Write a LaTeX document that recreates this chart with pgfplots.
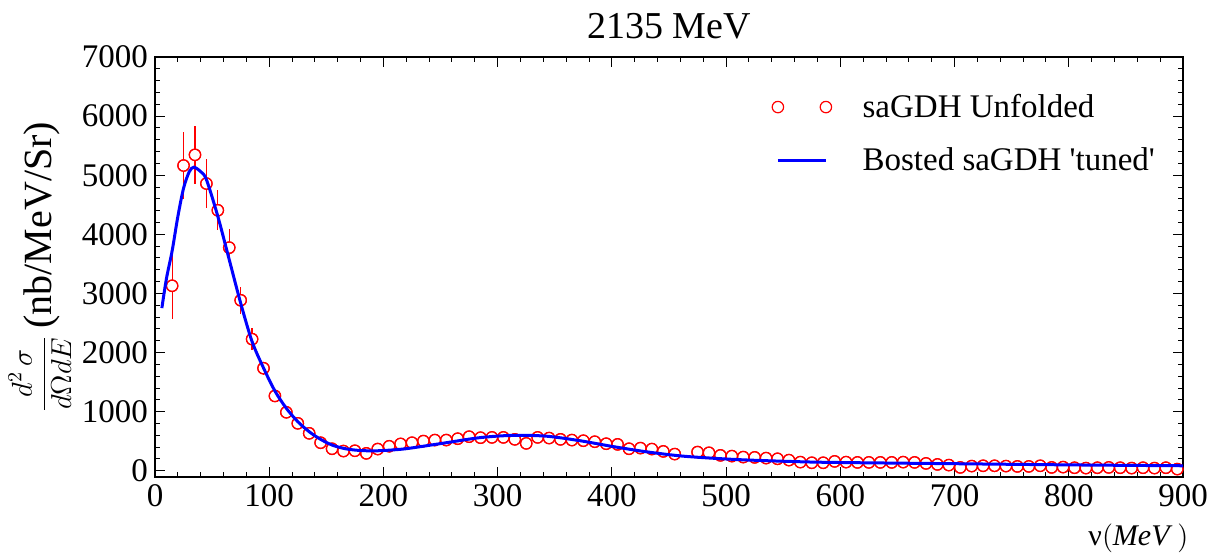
\documentclass[border=0pt]{standalone}
\usepackage{pgfplots}
\pgfplotsset{compat=1.18}
\usepackage{pgfplotstable}
\usepackage{fontspec}
\setmainfont{Liberation Serif}
\pgfplotsset{
  twomarks legend/.style={legend image code/.code={\draw[##1] plot coordinates {(0pt,0pt) (24pt,0pt)};}},
  shortline legend/.style={legend image code/.code={\draw[##1] (0pt,0pt) -- (24pt,0pt);}},
}
\pgfplotstableread{
x y e
15 3130 570
25 5164 565
35 5345 490
45 4859 420
55 4407 340
65 3775 310
75 2885 230
85 2227 190
95 1735 110
105 1266 90
115 990 70
125 803 60
135 634 55
145 475 50
155 373 50
165 334 50
175 339 50
185 295 50
195 368 50
205 415 50
215 455 50
225 475 50
235 503 50
245 520 50
255 520 50
265 543 50
275 577 50
285 560 50
295 565 50
305 565 50
315 532 50
325 464 50
335 565 50
345 554 50
355 532 50
365 520 50
375 509 50
385 492 50
395 458 50
405 447 50
415 373 50
425 384 50
435 368 50
445 328 50
455 283 50
475 317 40
485 305 40
495 261 40
505 249 40
515 232 40
525 227 40
535 215 40
545 203 40
555 181 40
565 147 40
575 136 40
585 136 40
595 159 40
605 147 40
615 142 40
625 142 40
635 142 40
645 142 40
655 147 40
665 142 40
675 125 40
685 108 40
695 97 40
705 57 40
715 80 40
725 85 40
735 85 40
745 80 40
755 74 40
765 74 40
775 85 40
785 57 40
795 63 40
805 52 40
815 46 40
825 52 40
835 57 40
845 52 40
855 46 40
865 52 40
875 46 40
885 52 40
895 29 40
}\datatable
\pgfplotstableread{
x y
6 2752
10 3250
15 3720
20 4300
25 4780
30 5060
34 5136
40 5060
45 4927
55 4305
65 3571
75 2837
85 2186
95 1740
105 1350
115 1057
125 831
135 661
145 532
155 436
165 380
175 351
185 339
197 340
214 362
226 390
255 475
285 562
314 600
343 585
372 509
401 410
430 322
460 252
489 212
518 183
565 153
600 140
700 120
800 100
900 85
}\curvetable
\begin{document}
\begin{tikzpicture}
\useasboundingbox (0,0) rectangle (606.5pt,276pt);
\begin{axis}[
  at={(77.5pt,37.5pt)}, anchor=south west,
  scale only axis, width=514pt, height=210pt,
  clip mode=individual,
  xmin=0, xmax=900, ymin=-105, ymax=7000,
  xtick={0,100,...,900}, ytick={0,1000,...,7000},
  minor x tick num=4, minor y tick num=4,
  tick align=inside, major tick length=5pt, minor tick length=2.5pt,
  axis line style={line width=1pt},
  tick style={black, line width=0.5pt},
  ticklabel style={font=\fontsize{16.5}{18}\selectfont},
  /pgf/number format/assume math mode=true,
  /pgf/number format/set thousands separator={},
  scaled ticks=false,
  title={2135 MeV},
  title style={font=\fontsize{19}{21}\selectfont, at={(axis description cs:0.5,1)}, anchor=base, yshift=3.5pt},
  ylabel={{\fontsize{14}{16}\selectfont$\displaystyle\frac{d^2\,\sigma}{d\Omega dE}$}\,\,{\fontsize{20}{24}\selectfont(nb/MeV/Sr)}},
  every axis y label/.style={at={(axis description cs:-0.112,0.5)}, rotate=90, anchor=center},
  xlabel={{\fontsize{15}{17}\selectfont ν$\big($\textit{MeV}$\,\big)$}},
  every axis x label/.style={at={(axis description cs:1.012,-0.145)}, anchor=east},
  legend style={draw=none, fill=none, inner sep=0pt,
    at={(axis description cs:0.600,0.913)}, anchor=north west,
    row sep=13.5pt, column sep=15.5pt,
    nodes={inner sep=0pt, font=\fontsize{16.5}{18}\selectfont}},
  legend cell align=left,
]
\addplot[forget plot, only marks, mark=*, mark size=2.85pt, mark options={draw=none, fill=white},
  draw=red, line width=0.6pt,
  error bars/.cd, y dir=both, y explicit, error mark=none,
  error bar style={red, line width=0.6pt}]
  table[x=x, y=y, y error=e] {\datatable};
\addplot[only marks, mark=o, mark size=2.85pt, mark options={red, line width=0.6pt}, twomarks legend]
  table[x=x, y=y] {\datatable};
\addlegendentry{saGDH Unfolded}
\addplot[blue, line width=1.5pt, smooth, no marks, shortline legend]
  table[x=x, y=y] {\curvetable};
\addlegendentry{Bosted saGDH \textquotesingle tuned\textquotesingle}
\end{axis}
\end{tikzpicture}
\end{document}
